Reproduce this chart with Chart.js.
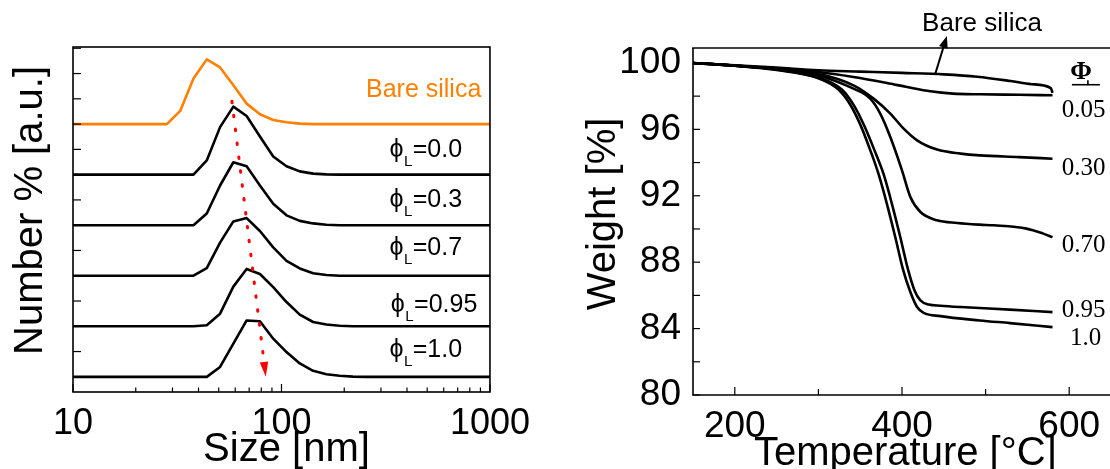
<!DOCTYPE html>
<html><head><meta charset="utf-8">
<script src="https://cdn.jsdelivr.net/npm/chart.js@4.4.1/dist/chart.umd.min.js"></script>
<style>
html,body{margin:0;padding:0;background:#fff;overflow:hidden;width:1110px;height:469px;position:relative;}
#c1{position:absolute;left:0;top:0;}
#c2{position:absolute;left:540px;top:0;}
</style></head><body>
<canvas id="c1" width="540" height="469"></canvas>
<canvas id="c2" width="575" height="469"></canvas>
<script>
// ---------- Left panel data (DLS size distributions) ----------
const sizes      = [10, 24.36, 28.21, 32.67, 37.84, 43.82, 50.75, 58.77, 68.06, 78.82, 91.28, 105.7, 122.4, 141.8, 164.2, 190.1, 220.2, 255.0, 1000];
const bareSilica = [0, 0, 0, 0.52, 1.80, 2.56, 2.24, 1.54, 0.81, 0.39, 0.16, 0.07, 0.02, 0, 0, 0, 0, 0, 0];
const phi00      = [0, 0, 0, 0, 0, 0.56, 1.88, 2.69, 2.32, 1.51, 0.72, 0.33, 0.13, 0.04, 0.01, 0, 0, 0, 0];
const phi03      = [0, 0, 0, 0, 0, 0.46, 1.57, 2.49, 2.33, 1.57, 0.85, 0.39, 0.17, 0.07, 0.02, 0, 0, 0, 0];
const phi07      = [0, 0, 0, 0, 0, 0.30, 1.31, 2.15, 2.28, 1.77, 1.12, 0.59, 0.29, 0.10, 0.03, 0, 0, 0, 0];
const phi095     = [0, 0, 0, 0, 0, 0.04, 0.50, 1.57, 2.27, 2.07, 1.55, 0.96, 0.46, 0.17, 0.07, 0.02, 0, 0, 0];
const phi10      = [0, 0, 0, 0, 0, 0, 0.39, 1.31, 2.23, 2.20, 1.51, 0.98, 0.53, 0.24, 0.10, 0.04, 0.01, 0, 0];
const curveOffsets = [10, 8, 6, 4, 2, 0];
const phiLabels  = ['0.0', '0.3', '0.7', '0.95', '1.0'];
const shiftArrowSize  = [57.85, 82.5];
const shiftArrowValue = [10.9, 0.58];
const shiftArrowTip   = [84.1, 0.0];
const sizeTicks      = [10,20,30,40,50,60,70,80,90,100,200,300,400,500,600,700,800,900,1000];
const sizeTickLabels = [10, 100, 1000];
const numberTicks    = [0,1,2,3,4,5,6,7,8,9,10,11,12,13];

// ---------- Right panel data (TGA) ----------
const bareT = [150,200,250,300,350,400,450,490,530,555,578,580];
const bareW = [100.0,99.86,99.72,99.56,99.48,99.40,99.31,99.17,98.91,98.72,98.49,98.20];
const p005T = [150,200,250,300,342,382,406,434,461,493,540,580];
const p005W = [100.0,99.84,99.66,99.45,99.15,98.79,98.55,98.29,98.15,98.11,98.08,98.05];
const p030T = [150,200,250,300,342,366,386,402,418,442,470,493,540,580];
const p030W = [100.0,99.84,99.64,99.35,98.65,97.85,96.95,96.04,95.34,94.78,94.54,94.43,94.33,94.23];
const p070T = [150,200,250,300,342,362,374,386,400,410,422,442,466,493,510,549,569,580];
const p070W = [100.0,99.84,99.63,99.25,98.45,97.85,96.95,95.54,93.53,91.92,91.02,90.52,90.36,90.26,90.22,90.02,89.72,89.51];
const p095T = [150,200,250,300,328,343,355,367,378,388,398,407,415,422,432,446,470,529,580];
const p095W = [100.0,99.83,99.60,99.12,98.40,97.40,96.20,94.75,93.30,91.50,89.50,87.60,86.30,85.70,85.45,85.38,85.30,85.14,84.99];
const p100T = [150,200,250,300,324,338,350,362,372,382,392,401,410,418,426,446,493,529,580];
const p100W = [100.0,99.83,99.58,99.08,98.40,97.50,96.30,94.75,93.30,91.50,89.50,87.60,86.20,85.30,84.95,84.75,84.49,84.33,84.09];
const tgaLabels = ['0.05', '0.30', '0.70', '0.95', '1.0'];
const tempTicks        = [200,300,400,500,600];
const tempTickLabels   = [200,400,600];
const weightTicks      = [80,82,84,86,88,90,92,94,96,98,100];
const weightTickLabels = [80,84,88,92,96,100];

const SANS  = "'Liberation Sans', Arial, Helvetica, sans-serif";
const SERIF = "'Liberation Serif', 'Times New Roman', serif";

function arrowHead(ctx, x0, y0, x1, y1, len, half, color) {
  const dx = x1 - x0, dy = y1 - y0, L = Math.hypot(dx, dy), ux = dx / L, uy = dy / L;
  const bx = x1 - ux * len, by = y1 - uy * len;
  ctx.beginPath();
  ctx.moveTo(x1, y1);
  ctx.lineTo(bx - uy * half, by + ux * half);
  ctx.lineTo(bx + uy * half, by - ux * half);
  ctx.closePath();
  ctx.fillStyle = color;
  ctx.fill();
}
function seg(ctx, x0, y0, x1, y1) { ctx.beginPath(); ctx.moveTo(x0, y0); ctx.lineTo(x1, y1); ctx.stroke(); }

// ---------- Left chart ----------
const leftSeries = [bareSilica, phi00, phi03, phi07, phi095, phi10];
const leftColors = ['#ff8000', '#000', '#000', '#000', '#000', '#000'];
const leftDatasets = leftSeries.map((s, i) => ({
  data: sizes.map((x, j) => ({ x: x, y: s[j] + curveOffsets[i] })),
  borderColor: leftColors[i], borderWidth: 2.6, pointRadius: 0, tension: 0,
  fill: false, borderJoinStyle: 'round', order: 1
}));
leftDatasets.push({
  data: shiftArrowSize.map((x, j) => ({ x: x, y: shiftArrowValue[j] })),
  borderColor: '#ff0000', borderWidth: 3, borderDash: [1.5, 12.5], borderCapStyle: 'round',
  pointRadius: 0, fill: false, order: -1
});

const leftDecor = {
  id: 'leftDecor',
  afterDatasetsDraw(chart) {
    const { ctx, scales: { x, y } } = chart;
    const x1 = x.getPixelForValue(shiftArrowTip[0]), y1 = y.getPixelForValue(shiftArrowTip[1]);
    const xa = x.getPixelForValue(shiftArrowSize[0]), ya = y.getPixelForValue(shiftArrowValue[0]);
    arrowHead(ctx, xa, ya, x1, y1, 15, 4.2, '#ff0000');
  },
  afterDraw(chart) {
    const { ctx, chartArea: a, scales: { x, y } } = chart;
    ctx.save();
    ctx.strokeStyle = '#000'; ctx.lineWidth = 1.6;
    ctx.strokeRect(a.left, a.top, a.right - a.left, a.bottom - a.top);
    ctx.lineWidth = 1.2;
    sizeTicks.forEach(v => {
      const px = x.getPixelForValue(v);
      const len = sizeTickLabels.includes(v) ? 8 : 4.5;
      seg(ctx, px, a.bottom, px, a.bottom - len);
    });
    numberTicks.forEach(v => {
      const py = y.getPixelForValue(v);
      seg(ctx, a.left, py, a.left + 8, py);
    });
    ctx.fillStyle = '#000';
    ctx.font = `40px ${SANS}`;
    ctx.textAlign = 'center'; ctx.textBaseline = 'middle';
    ctx.save();
    ctx.translate(a.left - 42, (a.top + a.bottom) / 2 - 9);
    ctx.rotate(-Math.PI / 2);
    ctx.fillText('Number % [a.u.]', 0, 0);
    ctx.restore();
    ctx.textBaseline = 'alphabetic';
    ctx.fillText('Size [nm]', (a.left + a.right) / 2 + 5, 461);
    ctx.font = `25px ${SANS}`;
    ctx.fillStyle = '#ff8000';
    ctx.textAlign = 'right'; ctx.textBaseline = 'middle';
    ctx.fillText('Bare silica', x.getPixelForValue(909), y.getPixelForValue(11.33));
    const rights = [727, 727, 727, 860, 727];
    const bases  = [8.68, 6.73, 4.82, 2.58, 0.79];
    ctx.fillStyle = '#000'; ctx.textAlign = 'left'; ctx.textBaseline = 'alphabetic';
    phiLabels.forEach((lab, i) => {
      const big = `25px ${SANS}`, small = `15px ${SANS}`;
      ctx.font = big;
      const w1 = ctx.measureText('\u03D5').width, w3 = ctx.measureText('=' + lab).width;
      ctx.font = small;
      const w2 = ctx.measureText('L').width;
      const rx = x.getPixelForValue(rights[i]), by = y.getPixelForValue(bases[i]);
      const x0 = rx - (w1 + w2 + w3);
      ctx.font = big; ctx.fillText('\u03D5', x0, by);
      ctx.font = small; ctx.fillText('L', x0 + w1 + 0.5, by + 9);
      ctx.font = big; ctx.fillText('=' + lab, x0 + w1 + w2 + 1, by);
    });
    ctx.restore();
  }
};

new Chart(document.getElementById('c1'), {
  type: 'line',
  data: { datasets: leftDatasets },
  options: {
    responsive: false, animation: false, devicePixelRatio: 1,
    layout: { padding: { left: 0, top: 47, right: 48, bottom: 0 } },
    plugins: { legend: { display: false }, tooltip: { enabled: false } },
    scales: {
      x: {
        type: 'logarithmic', min: 10, max: 1000,
        grid: { display: false, drawTicks: false }, border: { display: false },
        afterBuildTicks(s) { s.ticks = sizeTicks.map(v => ({ value: v })); },
        afterFit(s) { s.height = 77; },
        ticks: {
          autoSkip: false, maxRotation: 0, minRotation: 0, padding: 10, color: '#000',
          font: { family: SANS, size: 36 },
          callback: (v) => sizeTickLabels.includes(v) ? String(v) : ''
        }
      },
      y: {
        type: 'linear', min: -0.6, max: 13.05,
        grid: { display: false, drawTicks: false }, border: { display: false },
        ticks: { display: false },
        afterFit(s) { s.width = 73; }
      }
    }
  },
  plugins: [leftDecor]
});

// ---------- Right chart ----------
const rightT = [bareT, p005T, p030T, p070T, p095T, p100T];
const rightW = [bareW, p005W, p030W, p070W, p095W, p100W];
const rightDatasets = rightT.map((ts, i) => ({
  data: ts.map((t, j) => ({ x: t, y: rightW[i][j] })),
  borderColor: '#000', borderWidth: 2.6, pointRadius: 0,
  cubicInterpolationMode: 'monotone', fill: false, borderJoinStyle: 'round'
}));

const rightDecor = {
  id: 'rightDecor',
  afterDraw(chart) {
    const { ctx, chartArea: a, scales: { x, y } } = chart;
    ctx.save();
    ctx.strokeStyle = '#000'; ctx.lineWidth = 1.6;
    seg(ctx, a.left, a.top, a.left, a.bottom);
    seg(ctx, a.left - 0.8, a.bottom, a.right + 10, a.bottom);
    seg(ctx, a.left - 0.8, a.top, a.right + 10, a.top);
    ctx.lineWidth = 1.2;
    weightTicks.forEach(v => {
      const py = y.getPixelForValue(v);
      seg(ctx, a.left, py, a.left + 7, py);
    });
    tempTicks.forEach(v => {
      const px = x.getPixelForValue(v);
      const len = tempTickLabels.includes(v) ? 8 : 6;
      seg(ctx, px, a.bottom, px, a.bottom - len);
    });
    ctx.fillStyle = '#000';
    ctx.font = `40px ${SANS}`;
    ctx.textAlign = 'center'; ctx.textBaseline = 'middle';
    ctx.save();
    ctx.translate(a.left - 89, 214);
    ctx.rotate(-Math.PI / 2);
    ctx.fillText('Weight [%]', 0, 0);
    ctx.restore();
    ctx.textBaseline = 'alphabetic';
    ctx.fillText('Temperature [\u00B0C]', x.getPixelForValue(404), 465);
    ctx.font = `26px ${SANS}`;
    ctx.textBaseline = 'middle';
    ctx.fillText('Bare silica', x.getPixelForValue(495.8), y.getPixelForValue(102.33));
    const sx = x.getPixelForValue(439.6), sy = y.getPixelForValue(99.31);
    const tx = x.getPixelForValue(453.7), ty = y.getPixelForValue(101.63);
    const L = Math.hypot(tx - sx, ty - sy);
    ctx.lineWidth = 2;
    seg(ctx, sx, sy, tx - (tx - sx) / L * 10, ty - (ty - sy) / L * 10);
    arrowHead(ctx, sx, sy, tx, ty, 12, 4.5, '#000');
    ctx.font = `bold 26px ${SERIF}`;
    ctx.textAlign = 'center'; ctx.textBaseline = 'alphabetic';
    const px = x.getPixelForValue(614), pb = y.getPixelForValue(99.05);
    ctx.fillText('\u03A6', px, pb);
    ctx.lineWidth = 1.6;
    seg(ctx, px - 9, pb + 6, px + 19, pb + 6);
    seg(ctx, px + 7, pb + 1.5, px + 7, pb + 6);
    ctx.font = `25px ${SERIF}`;
    ctx.textAlign = 'left';
    const lx = [591, 591, 591, 591, 601];
    const lb = [96.72, 93.23, 88.61, 84.69, 82.99];
    tgaLabels.forEach((lab, i) => {
      ctx.fillText(lab, x.getPixelForValue(lx[i]), y.getPixelForValue(lb[i]));
    });
    ctx.restore();
  }
};

new Chart(document.getElementById('c2'), {
  type: 'line',
  data: { datasets: rightDatasets },
  options: {
    responsive: false, animation: false, devicePixelRatio: 1,
    layout: { padding: { left: 0, top: 48, right: 4, bottom: 0 } },
    plugins: { legend: { display: false }, tooltip: { enabled: false } },
    scales: {
      x: {
        type: 'linear', min: 150, max: 650,
        grid: { display: false, drawTicks: false }, border: { display: false },
        afterBuildTicks(s) { s.ticks = tempTicks.map(v => ({ value: v })); },
        afterFit(s) { s.height = 74; },
        ticks: {
          autoSkip: false, maxRotation: 0, minRotation: 0, padding: 10, color: '#000',
          font: { family: SANS, size: 37 },
          callback: (v) => tempTickLabels.includes(v) ? String(v) : ''
        }
      },
      y: {
        type: 'linear', min: 80, max: 100.9,
        grid: { display: false, drawTicks: false }, border: { display: false },
        afterBuildTicks(s) { s.ticks = weightTicks.map(v => ({ value: v })); },
        afterFit(s) { s.width = 153; },
        ticks: {
          autoSkip: false, padding: 12, color: '#000',
          font: { family: SANS, size: 37 },
          callback: (v) => weightTickLabels.includes(v) ? String(v) : ''
        }
      }
    }
  },
  plugins: [rightDecor]
});
</script>
</body></html>
